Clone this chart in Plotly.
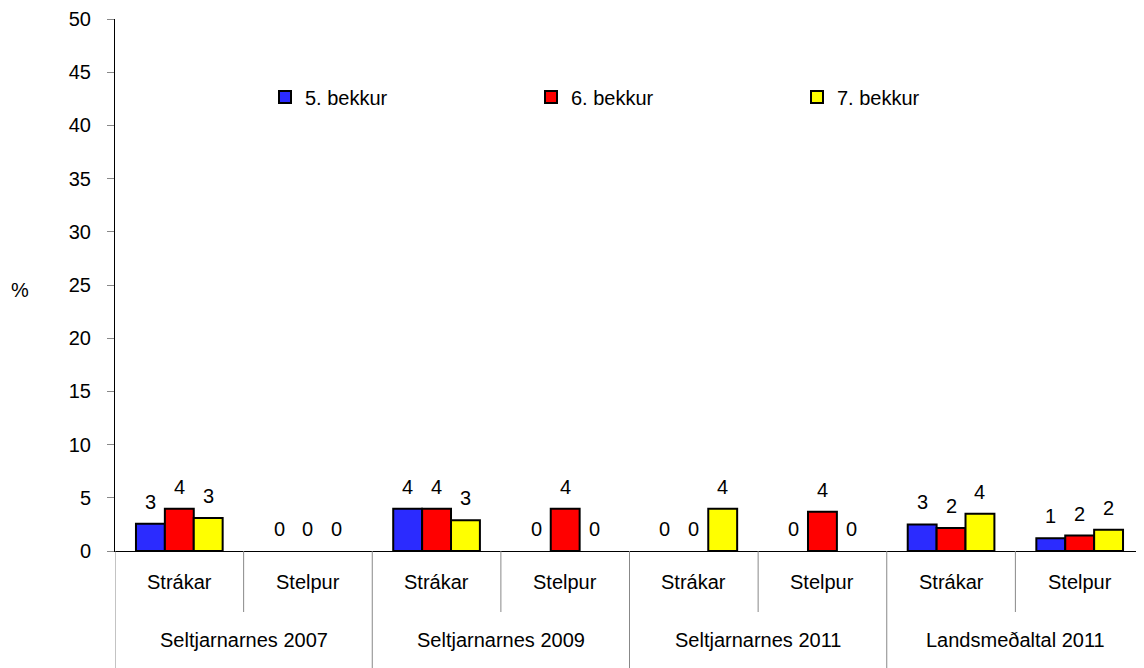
import plotly.graph_objects as go

groups = ["Seltjarnarnes 2007", "Seltjarnarnes 2009", "Seltjarnarnes 2011", "Landsmeðaltal 2011"]
subs = ["Strákar", "Stelpur", "Strákar", "Stelpur", "Strákar", "Stelpur", "Strákar", "Stelpur"]

series_names = ["5. bekkur", "6. bekkur", "7. bekkur"]
b5 = [2.55, 0, 3.96, 0, 0, 0, 2.5, 1.2]
b6 = [3.96, 0, 3.96, 3.96, 0, 3.7, 2.15, 1.45]
b7 = [3.1, 0, 2.9, 0, 3.96, 0, 3.5, 2.0]
lab5 = ["3", "0", "4", "0", "0", "0", "3", "1"]
lab6 = ["4", "0", "4", "4", "0", "4", "2", "2"]
lab7 = ["3", "0", "3", "0", "4", "0", "4", "2"]
colors = ["#2b2bff", "#ff0000", "#ffff00"]

FONT = "Liberation Sans, Arial, sans-serif"
FS = 20
BARGAP = 0.326

# page body has an 8px default margin; compensate
W, H = 1136, 660
ML, MT, MB, MR = 107, 11, 117, 0
plot_w = W - ML - MR
plot_h = H - MT - MB
# target pixel positions in the 1144x668 window
X0, Y0 = 115, 551


def px_to_paper_x(px):
    return (px - X0) / plot_w


def px_to_paper_y(py):
    return (Y0 - py) / plot_h


xs = list(range(len(subs)))
fig = go.Figure()
bw = (1 - BARGAP) / 3
for k, (name, vals, labs, col) in enumerate(zip(series_names, [b5, b6, b7], [lab5, lab6, lab7], colors)):
    fig.add_trace(go.Bar(
        x=xs, y=vals, name=name,
        marker=dict(color=col, line=dict(color="black", width=[2 if v > 0 else 0 for v in vals])),
    ))
    off = (k - 1) * bw
    for xi, v, l in zip(xs, vals, labs):
        fig.add_annotation(x=xi + off, y=v, text=l, xref="x", yref="y", showarrow=False,
                           yshift=22, yanchor="middle",
                           font=dict(family=FONT, size=FS, color="black"))

# category labels (two levels) and dividers
for xi, s in zip(xs, subs):
    fig.add_annotation(x=xi, y=px_to_paper_y(582), yref="paper", text=s, showarrow=False, xref="x",
                       yanchor="middle", font=dict(family=FONT, size=FS, color="black"))
for gi, g in enumerate(groups):
    fig.add_annotation(x=gi * 2 + 0.5, y=px_to_paper_y(640), text=g, showarrow=False, xref="x", yref="paper",
                       yanchor="middle", font=dict(family=FONT, size=FS, color="black"))
for i in range(len(subs) + 1):
    is_group = (i % 2 == 0)
    fig.add_shape(type="line", xref="x", yref="paper", x0=i - 0.5, x1=i - 0.5,
                  y0=0, y1=px_to_paper_y(672) if is_group else px_to_paper_y(612),
                  line=dict(color="#888", width=1))

fig.add_annotation(text="%", x=px_to_paper_x(20), y=px_to_paper_y(290), xref="paper", yref="paper",
                   showarrow=False, xanchor="center", yanchor="middle",
                   font=dict(family=FONT, size=FS, color="black"))

fig.update_layout(
    width=W, height=H,
    margin=dict(l=ML, r=MR, t=MT, b=MB, autoexpand=False),
    paper_bgcolor="white", plot_bgcolor="white",
    barmode="group", bargap=BARGAP, bargroupgap=0,
    font=dict(family=FONT, size=FS, color="black"),
    showlegend=True,
    legend=dict(orientation="h", x=px_to_paper_x(265), y=px_to_paper_y(97), xanchor="left", yanchor="middle",
                entrywidth=221, entrywidthmode="pixels", itemwidth=30,
                font=dict(family=FONT, size=FS, color="black"), bgcolor="rgba(0,0,0,0)"),
)

fig.update_yaxes(range=[0, 50], dtick=5, showgrid=False, zeroline=False,
                 showline=True, linecolor="black", linewidth=1,
                 ticks="outside", ticklen=7, tickcolor="#888", ticklabelstandoff=12,
                 tickfont=dict(family=FONT, size=FS, color="black"))
fig.update_xaxes(range=[-0.5, len(subs) - 0.5], showgrid=False, showline=True, linecolor="black", linewidth=1,
                 zeroline=False, showticklabels=False, ticks="")

fig.write_html("out.html")
